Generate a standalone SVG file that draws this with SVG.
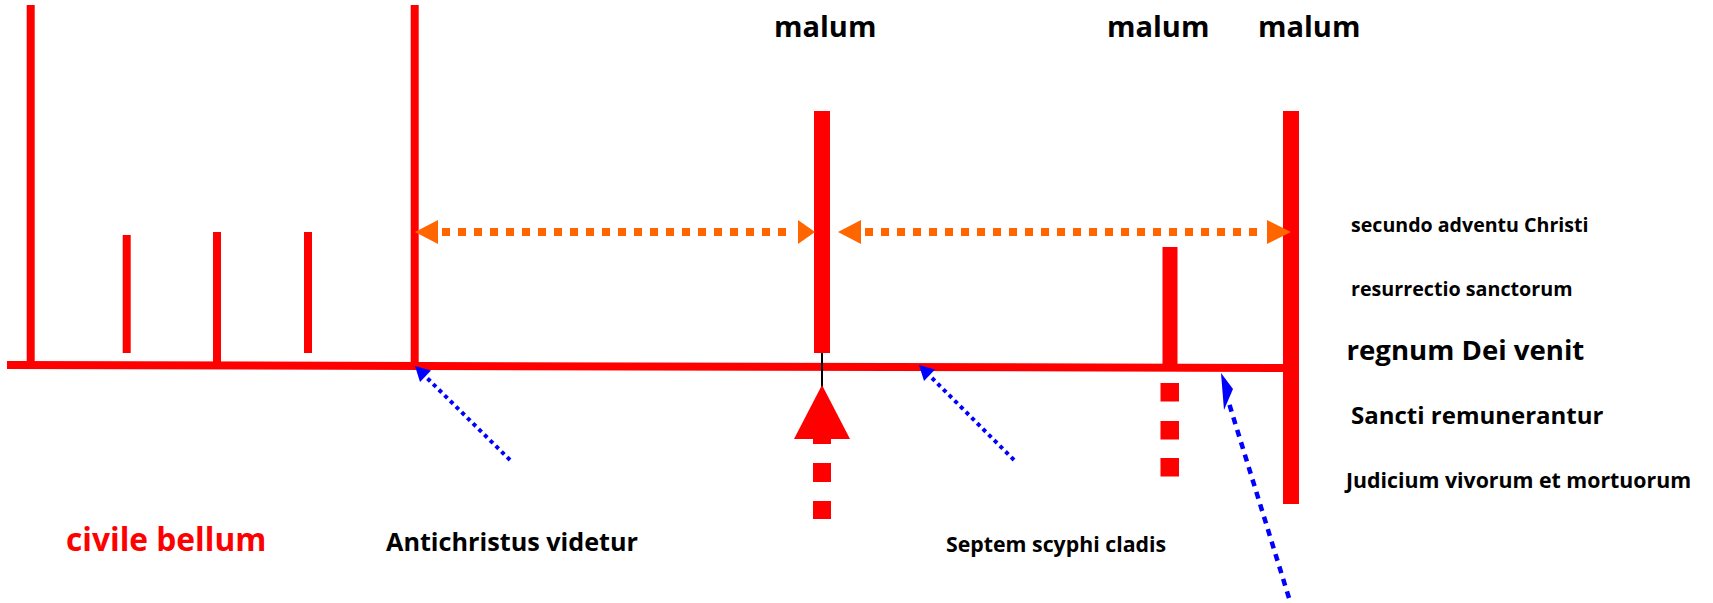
<svg xmlns="http://www.w3.org/2000/svg" width="1713" height="603" viewBox="0 0 1713 603">
<style>
.red{stroke:#ff0000;fill:none}
.fred{fill:#ff0000}
.or{stroke:#ff6600;stroke-width:8;stroke-dasharray:8 8;fill:none}
.fo{fill:#ff6600}
.bl{stroke:#0000ff;stroke-width:4;stroke-dasharray:4 4;fill:none}
.fb{fill:#0000ff}
text{font-family:"Open Sans","Noto Sans","DejaVu Sans",sans-serif;font-weight:bold;fill:#000}
</style>
<rect width="1713" height="603" fill="#fff"/>
<g id="timeline">
<line class="red" x1="7" y1="365" x2="1291" y2="368" stroke-width="8"/>
<line class="red" x1="30.7" y1="5" x2="30.7" y2="366" stroke-width="8"/>
<line class="red" x1="126.7" y1="235" x2="126.7" y2="353" stroke-width="8"/>
<line class="red" x1="217" y1="232" x2="217" y2="366" stroke-width="8"/>
<line class="red" x1="308" y1="232" x2="308" y2="353" stroke-width="8"/>
<line class="red" x1="414.7" y1="5" x2="414.7" y2="366" stroke-width="8"/>
</g>
<g id="bar-malum-1">
<rect class="fred" x="814" y="111" width="16" height="242"/>
<line x1="822" y1="353" x2="822" y2="388" stroke="#000" stroke-width="2"/>
<polygon class="fred" points="822,385 850,439 794,439"/>
<rect class="fred" x="813" y="438" width="18" height="6"/>
<rect class="fred" x="813" y="463" width="18" height="19"/>
<rect class="fred" x="813" y="501" width="18" height="18"/>
</g>
<g id="bar-malum-2">
<rect class="fred" x="1162.5" y="247" width="15" height="120"/>
<rect class="fred" x="1160.5" y="383" width="18.5" height="18.5"/>
<rect class="fred" x="1160.5" y="421" width="18.5" height="18.5"/>
<rect class="fred" x="1160.5" y="458" width="18.5" height="18.5"/>
</g>
<g id="bar-malum-3">
<rect class="fred" x="1283" y="111" width="16" height="393"/>
</g>
<g id="connectors">
<line class="or" x1="442" y1="232" x2="792" y2="232"/>
<polygon class="fo" points="415,232 438,220 438,244"/>
<polygon class="fo" points="815,232 798,220 798,244"/>
<line class="or" x1="865" y1="232" x2="1262" y2="232"/>
<polygon class="fo" points="838,232 861,220 861,244"/>
<polygon class="fo" points="1291,232 1267,220 1267,244"/>
<line class="bl" x1="510" y1="460" x2="424" y2="375"/>
<polygon class="fb" points="415,366 431,370.5 420,382"/>
<line class="bl" x1="1014" y1="460" x2="928" y2="374"/>
<polygon class="fb" points="919,365 935,369.5 924,381"/>
<line x1="1289" y1="598" x2="1228" y2="400" stroke="#0000ff" stroke-width="4.5" stroke-dasharray="7 6"/>
<polygon class="fb" points="1221,373 1233,389 1224,410"/>
</g>
<g id="labels">
<text x="774" y="37" font-size="29">malum</text>
<text x="1107" y="37" font-size="29">malum</text>
<text x="1258" y="37" font-size="29">malum</text>
<text x="1351" y="231.5" font-size="19.6">secundo adventu Christi</text>
<text x="1351" y="296" font-size="19.7">resurrectio sanctorum</text>
<text x="1346.5" y="360" font-size="27.6">regnum Dei venit</text>
<text x="1351" y="424" font-size="24">Sancti remunerantur</text>
<text x="1346" y="487.5" font-size="21.3">Judicium vivorum et mortuorum</text>
<text x="66" y="551" font-size="31.7" style="fill:#ff0000">civile bellum</text>
<text x="386" y="550.7" font-size="25.2">Antichristus videtur</text>
<text x="946" y="551.5" font-size="21.3">Septem scyphi cladis</text>
</g>
</svg>
